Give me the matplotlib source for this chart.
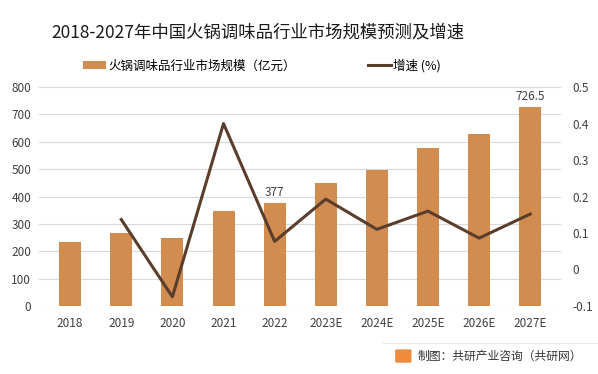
import matplotlib.pyplot as plt
from matplotlib.patches import FancyBboxPatch

plt.rcParams['font.family'] = ['Noto Sans CJK SC', 'DejaVu Sans']

years = ['2018', '2019', '2020', '2021', '2022', '2023E', '2024E', '2025E', '2026E', '2027E']
market = [234, 266, 248, 347, 377, 449, 496, 577, 628, 726.5]
growth = [None, 0.137, -0.075, 0.40, 0.077, 0.193, 0.11, 0.16, 0.086, 0.152]
labelled = {4: '377', 9: '726.5'}

bar_color = '#D38C4F'
line_color = '#5A3D2B'

fig = plt.figure(figsize=(5.98, 3.74), dpi=100)
ax = fig.add_axes([0.066, 0.182, 0.872, 0.585])
ax2 = ax.twinx()

x = list(range(len(years)))
ax.bar(x, market, width=0.43, color=bar_color, zorder=2, label='火锅调味品行业市场规模（亿元）')
for i, t in labelled.items():
    ax.text(i, market[i] + 14, t, ha='center', va='bottom', fontsize=8.5, color='#404040')

ax.set_ylim(0, 800)
ax.set_yticks(range(0, 801, 100))
ax.set_xlim(-0.6, len(years) - 0.4)
ax.set_xticks(x)
ax.set_xticklabels(years)
ax.grid(axis='y', color='#D9D9D9', linewidth=0.8, zorder=0)
ax.set_axisbelow(True)

gx = [i for i, g in enumerate(growth) if g is not None]
gy = [g for g in growth if g is not None]
ax2.plot(gx, gy, color=line_color, linewidth=2.2, label='增速 (%)')
ax2.set_ylim(-0.1, 0.5)
ax2.set_yticks([-0.1, 0, 0.1, 0.2, 0.3, 0.4, 0.5])
ax2.set_yticklabels(['-0.1', '0', '0.1', '0.2', '0.3', '0.4', '0.5'])

for a in (ax, ax2):
    for s in a.spines.values():
        s.set_visible(False)
    a.tick_params(length=0, labelsize=8.5, colors='#404040')
ax.tick_params(axis='x', pad=8)
ax.tick_params(axis='y', pad=6)
ax2.tick_params(axis='y', pad=8)

fig.text(0.432, 0.912, '2018-2027年中国火锅调味品行业市场规模预测及增速', ha='center', va='center',
         fontsize=12.5, color='#1a1a1a')

# legend
h1, l1 = ax.get_legend_handles_labels()
h2, l2 = ax2.get_legend_handles_labels()
fig.legend(h1 + h2, l1 + l2, loc='center left', bbox_to_anchor=(0.139, 0.825), ncol=2, frameon=False,
           fontsize=9, columnspacing=5.8, handlelength=1.8, handleheight=0.6, handletextpad=0.2,
           borderpad=0, borderaxespad=0)

# footer
fig.add_artist(plt.Line2D([0.64, 1.0], [0.083, 0.083], color='#E6E6E6', linewidth=0.8))
fig.add_artist(FancyBboxPatch((0.664, 0.034), 0.021, 0.028, boxstyle='round,pad=0.002',
                              color='#F08A3C', transform=fig.transFigure))
fig.text(0.699, 0.047, '制图：共研产业咨询（共研网）', ha='left', va='center', fontsize=8.5, color='#333333')

fig.savefig('out.png', dpi=100)
